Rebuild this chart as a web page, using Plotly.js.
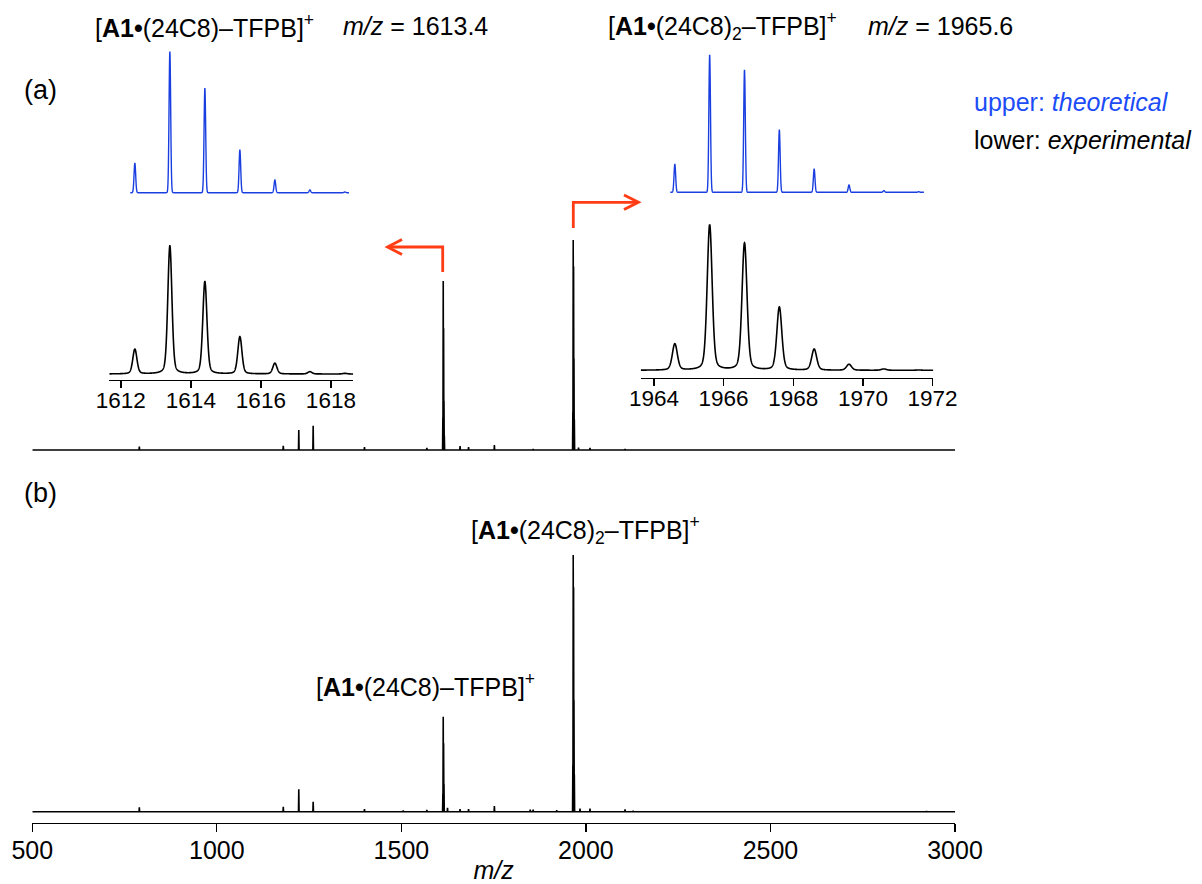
<!DOCTYPE html>
<html>
<head>
<meta charset="utf-8">
<script src="https://cdn.plot.ly/plotly-3.0.1.min.js"></script>
<style>html,body{margin:0;padding:0;background:#fff;}#chart{width:1202px;height:884px;}</style>
</head>
<body>
<div id="chart"></div>
<script>
// ---------------- DATA ----------------
// Panel (a): full spectrum (m/z, relative intensity, % of base peak)
const specA_mz  = [790, 1180, 1222, 1261, 1400, 1569, 1612.4, 1613.4, 1614.4, 1615.4, 1616.4, 1659, 1682, 1752, 1857, 1964.6, 1965.6, 1966.6, 1967.6, 1968.6, 1980, 2011, 2106];
const specA_int = [1.6, 2.0, 9.5, 11.6, 1.4, 1.0, 15.5, 80.5, 58, 23.4, 6.8, 1.9, 1.4, 2.4, 0.5, 18.1, 100, 87.4, 43.4, 14.5, 1.1, 1.0, 0.5];

// Panel (b): full spectrum
const specB_mz  = [790, 1180, 1222, 1261, 1400, 1505, 1569, 1612.4, 1613.4, 1614.4, 1615.4, 1625, 1659, 1682, 1752, 1849, 1857, 1921, 1964.6, 1965.6, 1966.6, 1967.6, 1968.6, 1984, 2011, 2106, 2128, 2923];
const specB_int = [1.7, 1.9, 8.7, 3.9, 1.0, 0.5, 0.7, 7.1, 37.0, 26.7, 10.8, 1.5, 1.0, 1.0, 2.2, 0.8, 0.8, 0.6, 18.1, 100, 87.4, 43.4, 14.5, 1.2, 1.2, 0.9, 0.4, 0.3];

// Inset 1: [A1•(24C8)–TFPB]+ isotope pattern
const iso1_mz       = [1612.4, 1613.4, 1614.4, 1615.4, 1616.4, 1617.4, 1618.4];
const iso1_theo     = [20.9, 100, 74.0, 30.3, 9.0, 1.9, 0.5];
const iso1_exp      = [19.3, 100, 72.1, 29.1, 8.4, 1.8, 0.5];

// Inset 2: [A1•(24C8)2–TFPB]+ isotope pattern
const iso2_mz       = [1964.6, 1965.6, 1966.6, 1967.6, 1968.6, 1969.6, 1970.6, 1971.6];
const iso2_theo     = [20.4, 100, 89.1, 45.4, 16.8, 5.3, 1.2, 0.4];
const iso2_exp      = [18.1, 100, 87.4, 43.4, 14.5, 4.1, 0.9, 0.2];

const mainTicks  = [500, 1000, 1500, 2000, 2500, 3000];
const inset1Ticks = [1612, 1614, 1616, 1618];
const inset2Ticks = [1964, 1966, 1968, 1970, 1972];

// ---------------- HELPERS ----------------
const W = 1202, H = 884;
const px = v => v / W;
const py = v => 1 - v / H;

// stick spectrum path from peak list
function sticks(mz, inten, lo, hi, w) {
  const idx = mz.map((m, i) => i).sort((a, b) => mz[a] - mz[b]);
  const xs = [lo], ys = [0];
  idx.forEach(i => { xs.push(mz[i] - w, mz[i], mz[i] + w); ys.push(0, inten[i], 0); });
  xs.push(hi); ys.push(0);
  return {x: xs, y: ys};
}
// peak profile (pseudo-Voigt) sampled from a peak list
function profile(mz, inten, lo, hi, fwhm, eta) {
  const xs = [], ys = [];
  const step = 0.004;
  for (let x = lo; x <= hi + 1e-9; x += step) {
    let s = 0;
    for (let i = 0; i < mz.length; i++) {
      const d = (x - mz[i]) / fwhm;
      s += inten[i] * ((1 - eta) * Math.exp(-4 * Math.LN2 * d * d) + eta / (1 + 4 * d * d));
    }
    xs.push(x); ys.push(s);
  }
  return {x: xs, y: ys};
}

const BLUE = '#1a3fe0';
const RED = '#ff3c14';
const FONT = 'Liberation Sans, Arial, Helvetica, sans-serif';
const FS = 25;

const sA = sticks(specA_mz, specA_int, 500, 3000, 0.8);
const sB = sticks(specB_mz, specB_int, 500, 3000, 0.8);
const e1 = profile(iso1_mz, iso1_exp, 1611.67, 1618.64, 0.14, 0.3);
const e2 = profile(iso2_mz, iso2_exp, 1963.62, 1972.02, 0.17, 0.3);
const t1 = profile(iso1_mz, iso1_theo, 1612.27, 1618.52, 0.055, 0.0);
const t2 = profile(iso2_mz, iso2_theo, 1964.47, 1971.75, 0.055, 0.0);

const lineK = {color: '#000', width: 1.6, simplify: false};
const lineB = {color: BLUE, width: 1.4, simplify: false};

const traces = [
  {x: sB.x, y: sB.y, xaxis: 'x', yaxis: 'y', mode: 'lines', line: lineK, hoverinfo: 'skip'},
  {x: sA.x, y: sA.y, xaxis: 'x2', yaxis: 'y2', mode: 'lines', line: lineK, hoverinfo: 'skip'},
  {x: e1.x, y: e1.y, xaxis: 'x3', yaxis: 'y3', mode: 'lines', line: lineK, hoverinfo: 'skip'},
  {x: e2.x, y: e2.y, xaxis: 'x4', yaxis: 'y4', mode: 'lines', line: lineK, hoverinfo: 'skip'},
  {x: t1.x, y: t1.y, xaxis: 'x5', yaxis: 'y5', mode: 'lines', line: lineB, hoverinfo: 'skip'},
  {x: t2.x, y: t2.y, xaxis: 'x6', yaxis: 'y6', mode: 'lines', line: lineB, hoverinfo: 'skip'}
];

const hidden = {visible: false, showgrid: false, zeroline: false, fixedrange: true};
const mainDom = [px(32.3), px(955)];
const in1Dom = [px(109.3), px(353.3)];
const in2Dom = [px(640.7), px(933.3)];

const layout = {
  width: W, height: H,
  margin: {l: 0, r: 0, t: 0, b: 0},
  paper_bgcolor: '#fff', plot_bgcolor: 'rgba(0,0,0,0)',
  showlegend: false,
  font: {family: FONT, color: '#000', size: FS},
  xaxis: {domain: mainDom, range: [500, 3000], anchor: 'y', tickmode: 'array', tickvals: mainTicks,
          ticktext: mainTicks.map(String),
          ticks: 'outside', ticklen: 8, tickwidth: 1.3, tickcolor: '#000', showline: true, linewidth: 1.3,
          linecolor: '#000', showgrid: false, zeroline: false, tickfont: {size: FS, family: FONT},
          ticklabelstandoff: -3,
          title: {text: '<i>m/z</i>', font: {size: FS, family: FONT}, standoff: 2}},
  yaxis: Object.assign({domain: [py(823), py(540)], range: [-4.4, 105.84]}, hidden),
  xaxis2: Object.assign({domain: mainDom, range: [500, 3000], anchor: 'y2'}, hidden),
  yaxis2: Object.assign({domain: [py(460), py(230)], range: [-4.76, 104.76], anchor: 'x2'}, hidden),
  xaxis3: {domain: in1Dom, range: [1611.67, 1618.64], anchor: 'y3', tickmode: 'array', tickvals: inset1Ticks,
           ticks: 'outside', ticklen: 7, tickwidth: 1.3, tickcolor: '#000', showline: true, linewidth: 1.3,
           linecolor: '#000', showgrid: false, zeroline: false, tickfont: {size: 22.5, family: FONT},
           ticklabelstandoff: -7},
  yaxis3: Object.assign({domain: [py(380), py(240)], range: [-4.69, 104.69], anchor: 'x3'}, hidden),
  xaxis4: {domain: in2Dom, range: [1963.62, 1972.02], anchor: 'y4', tickmode: 'array', tickvals: inset2Ticks,
           ticks: 'outside', ticklen: 7, tickwidth: 1.3, tickcolor: '#000', showline: true, linewidth: 1.3,
           linecolor: '#000', showgrid: false, zeroline: false, tickfont: {size: 22.5, family: FONT},
           ticklabelstandoff: -7},
  yaxis4: Object.assign({domain: [py(377.7), py(218)], range: [-5.09, 104.82], anchor: 'x4'}, hidden),
  xaxis5: Object.assign({domain: in1Dom, range: [1611.67, 1618.64], anchor: 'y5'}, hidden),
  yaxis5: Object.assign({domain: [py(200), py(45)], range: [-5.18, 104.75], anchor: 'x5'}, hidden),
  xaxis6: Object.assign({domain: in2Dom, range: [1963.62, 1972.02], anchor: 'y6'}, hidden),
  yaxis6: Object.assign({domain: [py(200), py(48)], range: [-5.61, 105.1], anchor: 'x6'}, hidden),
  shapes: [
    {type: 'path', xref: 'paper', yref: 'paper',
     path: `M ${px(442.7)},${py(272)} L ${px(442.7)},${py(247)} L ${px(388)},${py(247)}`,
     line: {color: RED, width: 2.8}},
    {type: 'path', xref: 'paper', yref: 'paper',
     path: `M ${px(402)},${py(239.5)} L ${px(387.5)},${py(247)} L ${px(402)},${py(254.5)}`,
     line: {color: RED, width: 2.8}},
    {type: 'path', xref: 'paper', yref: 'paper',
     path: `M ${px(573.3)},${py(228)} L ${px(573.3)},${py(202.3)} L ${px(638)},${py(202.3)}`,
     line: {color: RED, width: 2.8}},
    {type: 'path', xref: 'paper', yref: 'paper',
     path: `M ${px(624)},${py(195)} L ${px(638.5)},${py(202.3)} L ${px(624)},${py(209.6)}`,
     line: {color: RED, width: 2.8}}
  ],
  annotations: []
};

function ann(text, x, y, opts) {
  layout.annotations.push(Object.assign({text: text, xref: 'paper', yref: 'paper', x: px(x), y: py(y),
    xanchor: 'left', yanchor: 'middle', showarrow: false, borderpad: 0,
    font: {family: FONT, size: FS, color: '#000'}}, opts || {}));
}
ann('[<b>A1•</b>(24C8)–TFPB]<sup>+</sup>', 94, 26);
ann('<i>m/z</i> = 1613.4', 342, 26);
ann('[<b>A1•</b>(24C8)<sub>2</sub>–TFPB]<sup>+</sup>', 607, 26);
ann('<i>m/z</i> = 1965.6', 867, 26);
ann('(a)', 23, 90, {font: {family: FONT, size: 27, color: '#000'}});
ann('(b)', 23, 493, {font: {family: FONT, size: 27, color: '#000'}});
ann('upper: <i>theoretical</i>', 973, 101.7, {font: {family: FONT, size: FS, color: '#1c4cf8'}});
ann('lower: <i>experimental</i>', 973, 140, {font: {family: FONT, size: FS, color: '#000'}});
ann('[<b>A1•</b>(24C8)<sub>2</sub>–TFPB]<sup>+</sup>', 470, 530);
ann('[<b>A1•</b>(24C8)–TFPB]<sup>+</sup>', 315, 685);

Plotly.newPlot('chart', traces, layout, {staticPlot: true, displayModeBar: false});
</script>
</body>
</html>
